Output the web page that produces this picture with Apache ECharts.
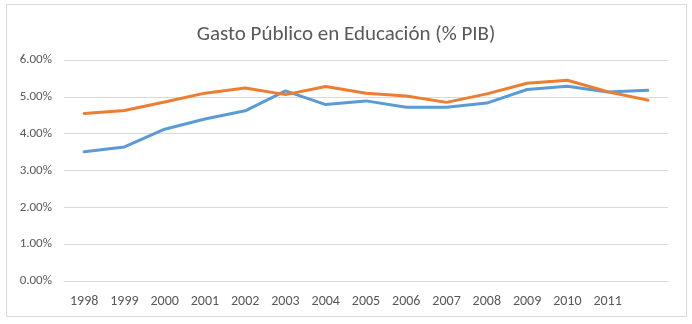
<!DOCTYPE html>
<html>
<head>
<meta charset="utf-8">
<script src="https://cdn.jsdelivr.net/npm/echarts@6/dist/echarts.min.js"></script>
<style>
  html, body { margin: 0; padding: 0; background: #fff; }
  .frame {
    position: absolute;
    left: 6px; top: 4px;
    width: 679px; height: 311px;
    border: 1px solid #d9d9d9;
  }
  #chart { position: absolute; left: 0; top: 0; width: 692px; height: 324px; }
</style>
</head>
<body>
<div class="frame"></div>
<div id="chart"></div>
<script>
  // categorias (el ultimo punto no tiene etiqueta en el original)
  const years = ['1998', '1999', '2000', '2001', '2002', '2003', '2004', '2005',
    '2006', '2007', '2008', '2009', '2010', '2011', '']
  // serie azul y serie naranja, en % del PIB
  const serieAzul = [3.51, 3.64, 4.12, 4.40, 4.62, 5.16, 4.79, 4.89,
    4.72, 4.72, 4.83, 5.20, 5.29, 5.13, 5.18]
  const serieNaranja = [4.55, 4.63, 4.86, 5.10, 5.24, 5.06, 5.28, 5.10,
    5.02, 4.85, 5.08, 5.37, 5.45, 5.14, 4.91]
  const yTicks = [0, 1, 2, 3, 4, 5, 6]

  const font = 'Carlito, Calibri, "Liberation Sans Narrow", "Open Sans", sans-serif'
  const chart = echarts.init(document.getElementById('chart'))

  const option = {
    animation: false,
    title: {
      text: 'Gasto Público en Educación (% PIB)',
      left: 'center',
      top: 19,
      textStyle: {
        color: '#595959',
        fontSize: 21,
        fontWeight: 'normal',
        fontFamily: font,
      },
    },
    grid: {
      left: 64,
      right: 24,
      top: 60,
      bottom: 43,
    },
    xAxis: {
      type: 'category',
      data: years,
      boundaryGap: true,
      axisLine: { show: true, lineStyle: { color: '#d9d9d9', width: 1 } },
      axisTick: { show: false },
      axisLabel: {
        color: '#595959',
        fontSize: 14,
        fontFamily: font,
        margin: 13,
        interval: 0,
      },
    },
    yAxis: {
      type: 'value',
      min: yTicks[0],
      max: yTicks[yTicks.length - 1],
      interval: 1,
      axisLine: { show: false },
      axisTick: { show: false },
      axisLabel: {
        color: '#595959',
        fontSize: 13,
        fontFamily: font,
        margin: 12,
        formatter: (v) => v.toFixed(2) + '%',
      },
      splitLine: { lineStyle: { color: '#d9d9d9', width: 1 } },
    },
    series: [
      {
        name: 'Serie 1',
        type: 'line',
        data: serieAzul,
        color: '#5b9bd5',
        symbol: 'none',
        lineStyle: { width: 3, cap: 'round', join: 'round' },
      },
      {
        name: 'Serie 2',
        type: 'line',
        data: serieNaranja,
        color: '#ed7d31',
        symbol: 'none',
        lineStyle: { width: 3, cap: 'round', join: 'round' },
      },
    ],
  }

  chart.setOption(option)
</script>
</body>
</html>
